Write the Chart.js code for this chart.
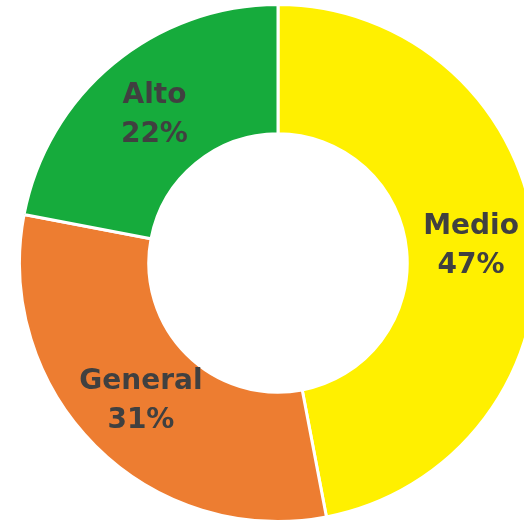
<!DOCTYPE html>
<html>
<head>
<meta charset="utf-8">
<script src="https://cdn.jsdelivr.net/npm/chart.js@4"></script>
<style>
  html, body { margin: 0; padding: 0; background: #fff; overflow: hidden; width: 524px; height: 521px; }
  #wrap { position: absolute; left: 18px; top: 3px; width: 520px; height: 520px; }
</style>
</head>
<body>
<div id="wrap"><canvas id="myChart"></canvas></div>
<script>
const labels = ['Medio', 'General', 'Alto'];
const values = [47, 31, 22];
const colors = ['#FFF000', '#ED7D31', '#16AB3C'];

// draw name + percent in the middle of every slice
const sliceLabels = {
  id: 'sliceLabels',
  afterDatasetsDraw(chart) {
    const ctx = chart.ctx;
    const meta = chart.getDatasetMeta(0);
    ctx.save();
    ctx.fillStyle = '#404040';
    ctx.textAlign = 'center';
    ctx.textBaseline = 'middle';
    ctx.font = 'bold 28px "DejaVu Sans"';
    meta.data.forEach((arc, i) => {
      const p = arc.tooltipPosition();
      ctx.fillText(labels[i], p.x, p.y - 18);
      ctx.fillText(values[i] + '%', p.x, p.y + 21);
    });
    ctx.restore();
  }
};

new Chart(document.getElementById('myChart'), {
  type: 'doughnut',
  data: {
    labels: labels,
    datasets: [{
      data: values,
      backgroundColor: colors,
      borderColor: '#ffffff',
      borderWidth: 3
    }]
  },
  options: {
    responsive: true,
    maintainAspectRatio: false,
    animation: false,
    cutout: '50%',
    layout: { padding: 0 },
    plugins: {
      legend: { display: false },
      tooltip: { enabled: false }
    }
  },
  plugins: [sliceLabels]
});
</script>
</body>
</html>
